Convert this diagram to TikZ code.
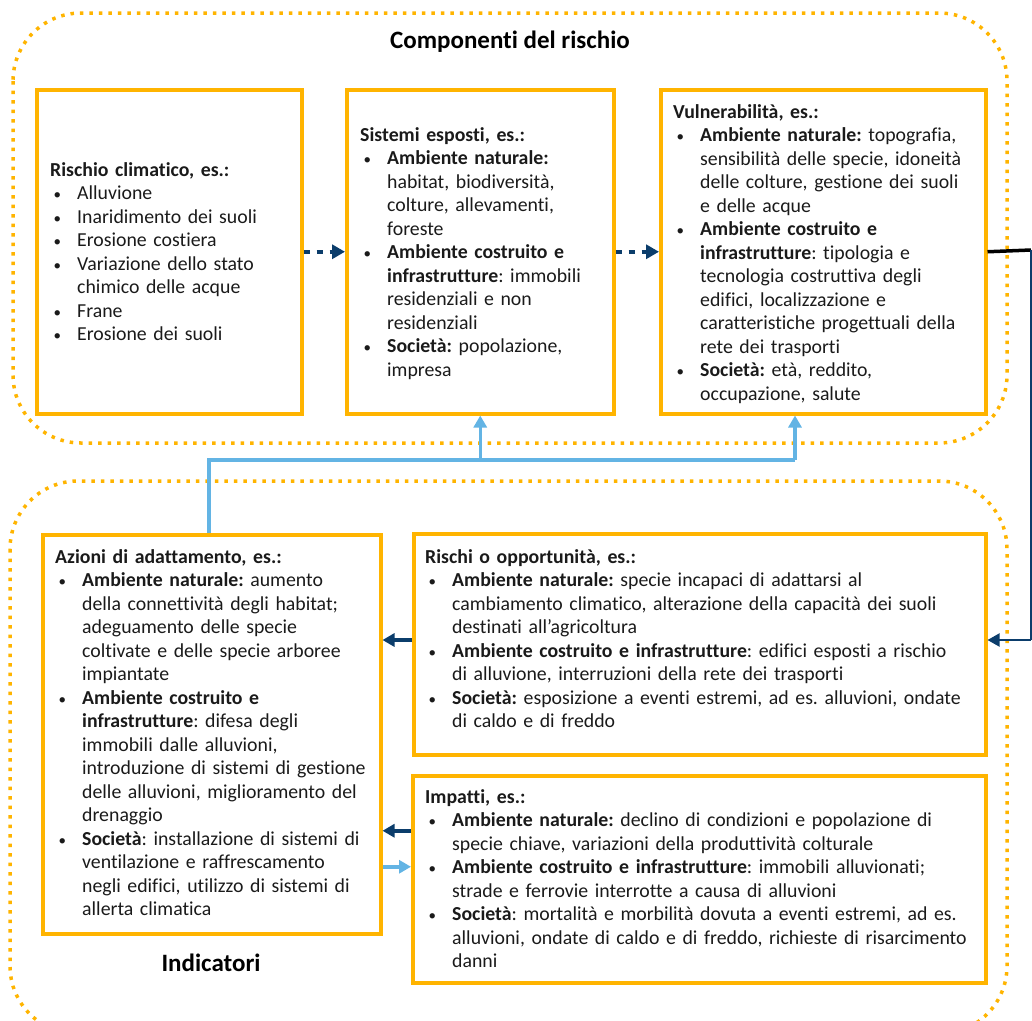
\documentclass[tikz,border=0pt]{standalone}
\usepackage{fontspec}
\setmainfont{Carlito}[Ligatures=NoCommon]
\usetikzlibrary{arrows.meta,calc}
\definecolor{orng}{HTML}{FFB400}
\definecolor{navy}{HTML}{0B3D6B}
\definecolor{lblue}{HTML}{63B4E4}
\definecolor{textc}{HTML}{1A1A1A}
\setlength{\parindent}{0pt}
\frenchspacing
\newcommand{\bl}{\makebox[27pt][l]{\hspace{3.5pt}{\fontsize{15}{15}\selectfont•}}}
\newcommand{\cl}{\hspace*{27pt}}
\tikzset{
  box/.style={draw=orng, line width=3.5pt, inner sep=0pt, anchor=north west},
  region/.style={draw=orng, line width=3.5pt, dash pattern=on 3.5pt off 6pt, rounded corners=68pt},
  txt/.style={anchor=north west, inner sep=0pt, align=left, text width=#1,
    font=\fontsize{19.8}{23.5}\selectfont\frenchspacing, text=textc},
  ttl/.style={font=\bfseries\fontsize{25}{30}\selectfont, text=black, inner sep=0pt},
  navydot/.style={draw=navy, line width=4pt, dash pattern=on 6pt off 7pt,
    -{Triangle[length=13pt,width=14pt]}},
  navyarr/.style={draw=navy, line width=3.5pt, -{Triangle[length=12pt,width=13pt]}},
  bluearr/.style={draw=lblue, line width=3.5pt, -{Triangle[length=12pt,width=13pt]}},
  blueline/.style={draw=lblue, line width=3.5pt},
}
\begin{document}
\begin{tikzpicture}[x=1pt, y=-1pt]
\useasboundingbox (0,0) rectangle (1032,1020);
\begin{scope}
\clip (0,0) rectangle (1032,1020);
% dotted regions
\draw[region] (13,13) rectangle (1007,443);
\draw[region] (10,481) rectangle (1007,1034);

\node[ttl] (t1) at (510,42) {Componenti del rischio};
\node[ttl] (t2) at (211,963) {Indicatori};

% boxes
\node[box, minimum width=265pt, minimum height=324pt] (b1) at (35,88) {};
\node[box, minimum width=267pt, minimum height=324pt] (b2) at (345,88) {};
\node[box, minimum width=325pt, minimum height=324pt] (b3) at (659,88) {};
\node[box, minimum width=338pt, minimum height=399pt] (b4) at (41,533) {};
\node[box, minimum width=572pt, minimum height=221pt] (b5) at (412,532) {};
\node[box, minimum width=573pt, minimum height=207pt] (b6) at (411,774) {};

% texts
\node[txt=245pt] (x1) at (50,159.5) {\strut\textbf{Rischio climatico, es.:}\\
\bl Alluvione\\
\bl Inaridimento dei suoli\\
\bl Erosione costiera\\
\bl Variazione dello stato\\
\cl chimico delle acque\\
\bl Frane\\
\bl Erosione dei suoli};

\node[txt=250pt] (x2) at (360,124.5) {\strut\textbf{Sistemi esposti, es.:}\\
\bl\textbf{Ambiente naturale:}\\
\cl habitat, biodiversità,\\
\cl colture, allevamenti,\\
\cl foreste\\
\bl\textbf{Ambiente costruito e}\\
\cl\textbf{infrastrutture}: immobili\\
\cl residenziali e non\\
\cl residenziali\\
\bl\textbf{Società:} popolazione,\\
\cl impresa};

\node[txt=310pt] (x3) at (673,101.5) {\strut\textbf{Vulnerabilità, es.:}\\
\bl\textbf{Ambiente naturale:} topografia,\\
\cl sensibilità delle specie, idoneità\\
\cl delle colture, gestione dei suoli\\
\cl e delle acque\\
\bl\textbf{Ambiente costruito e}\\
\cl\textbf{infrastrutture}: tipologia e\\
\cl tecnologia costruttiva degli\\
\cl edifici, localizzazione e\\
\cl caratteristiche progettuali della\\
\cl rete dei trasporti\\
\bl\textbf{Società:} età, reddito,\\
\cl occupazione, salute};

\node[txt=320pt] (x4) at (55,546.5) {\strut\textbf{Azioni di adattamento, es.:}\\
\bl\textbf{Ambiente naturale:} aumento\\
\cl della connettività degli habitat;\\
\cl adeguamento delle specie\\
\cl coltivate e delle specie arboree\\
\cl impiantate\\
\bl\textbf{Ambiente costruito e}\\
\cl\textbf{infrastrutture}: difesa degli\\
\cl immobili dalle alluvioni,\\
\cl introduzione di sistemi di gestione\\
\cl delle alluvioni, miglioramento del\\
\cl drenaggio\\
\bl\textbf{Società}: installazione di sistemi di\\
\cl ventilazione e raffrescamento\\
\cl negli edifici, utilizzo di sistemi di\\
\cl allerta climatica};

\node[txt=555pt] (x5) at (425,546.5) {\strut\textbf{Rischi o opportunità, es.:}\\
\bl\textbf{Ambiente naturale:} specie incapaci di adattarsi al\\
\cl cambiamento climatico, alterazione della capacità dei suoli\\
\cl destinati all’agricoltura\\
\bl\textbf{Ambiente costruito e infrastrutture}: edifici esposti a rischio\\
\cl di alluvione, interruzioni della rete dei trasporti\\
\bl\textbf{Società:} esposizione a eventi estremi, ad es. alluvioni, ondate\\
\cl di caldo e di freddo};

\node[txt=555pt] (x6) at (425,786.5) {\strut\textbf{Impatti, es.:}\\
\bl\textbf{Ambiente naturale:} declino di condizioni e popolazione di\\
\cl specie chiave, variazioni della produttività colturale\\
\bl\textbf{Ambiente costruito e infrastrutture}: immobili alluvionati;\\
\cl strade e ferrovie interrotte a causa di alluvioni\\
\bl\textbf{Società}: mortalità e morbilità dovuta a eventi estremi, ad es.\\
\cl alluvioni, ondate di caldo e di freddo, richieste di risarcimento\\
\cl danni};

% connectors top
\draw[navydot] (b1.east) -- (b2.west);
\draw[navydot] (b2.east) -- (b3.west);

% right loop
\coordinate (r1) at (1031,250);
\coordinate (r2) at (1031,640);
\draw[black, line width=3.5pt] (b3.east) -- (r1);
\draw[navy, line width=1.5pt] (r1) -- (r2);
\draw[navy, line width=2pt, -{Triangle[length=12pt,width=13pt]}] (r2) -- (b5.east |- r2);

% blue feedback
\coordinate (j1) at (209,460);
\coordinate (j2) at ($(b3.south west)+(136,0)$);
\draw[blueline] (b4.north -| j1) -- (j1) -- (j1 -| j2);
\draw[bluearr] (j1 -| j2) -- (j2);
\draw[bluearr] (j1 -| b2.south) -- (b2.south);

% bottom arrows
\coordinate (a1) at (b5.west |- r2);
\draw[navyarr] (a1) -- (b4.east |- a1);
\coordinate (a2) at ([yshift=48.5pt]b6.west);
\draw[navyarr] (a2) -- (b4.east |- a2);
\coordinate (a3) at ([yshift=12.5pt]b6.west);
\draw[bluearr] (b4.east |- a3) -- (a3);
\end{scope}
\end{tikzpicture}
\end{document}
